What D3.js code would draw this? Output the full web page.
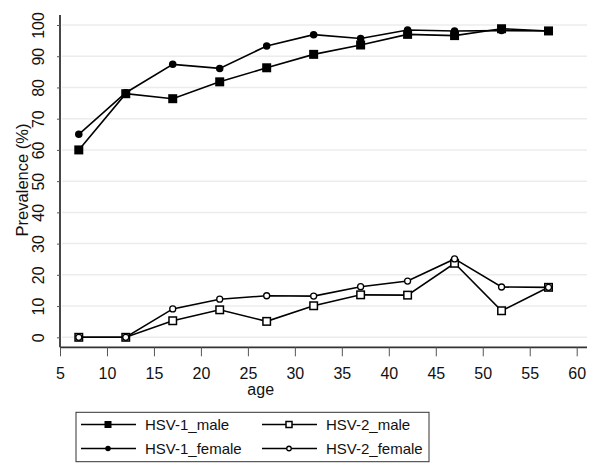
<!DOCTYPE html>
<html><head><meta charset="utf-8">
<script src="https://cdn.jsdelivr.net/npm/d3@7"></script>
<style>body{margin:0;background:#fff}svg{display:block}text{font-family:"Liberation Sans",Arial,sans-serif;fill:#111}</style>
</head><body><svg id="c" width="600" height="476"></svg>
<script>
const ages = [7,12,17,22,27,32,37,42,47,52,57];
const hsv1Male   = [60,78,76.4,81.8,86.3,90.6,93.6,97,96.6,98.8,98.1];
const hsv1Female = [65,78.3,87.4,86.1,93.3,96.9,95.7,98.4,98.1,98.2,98.1];
const hsv2Male   = [0,0,5.3,8.8,5.1,10.1,13.6,13.5,23.7,8.5,16];
const hsv2Female = [0,0,9.1,12.2,13.3,13.2,16.2,18,25.1,16.1,16];
const xTicks = [5,10,15,20,25,30,35,40,45,50,55,60];
const yTicks = [0,10,20,30,40,50,60,70,80,90,100];
const seriesNames = ["HSV-1_male","HSV-2_male","HSV-1_female","HSV-2_female"];

const svg = d3.select("#c");
const x = d3.scaleLinear().domain([5,60]).range([60,576.7]);
const y = d3.scaleLinear().domain([0,100]).range([337.3,25]);

// gridlines
svg.append("g").selectAll("line").data(yTicks).join("line")
  .attr("x1",62).attr("x2",587).attr("y1",d=>y(d)).attr("y2",d=>y(d))
  .attr("stroke","#ececec").attr("stroke-width",1.5);

// x axis
const xa = svg.append("g").attr("transform","translate(0,347.3)")
  .call(d3.axisBottom(x).tickValues(xTicks).tickSize(9).tickPadding(11).tickSizeOuter(0));
xa.select(".domain").attr("d","M60,0H587").attr("stroke","#333").attr("stroke-width",1.8);
xa.selectAll(".tick line").attr("stroke","#555").attr("stroke-width",1);
xa.selectAll(".tick text").attr("font-size",16).attr("font-family","Liberation Sans, Arial").attr("fill","#111");

// y axis
const ya = svg.append("g").attr("transform","translate(60,0)")
  .call(d3.axisLeft(y).tickValues(yTicks).tickSize(3).tickPadding(0).tickSizeOuter(0));
ya.select(".domain").attr("d","M0,15V347.3").attr("stroke","#333").attr("stroke-width",1.8);
ya.selectAll(".tick line").attr("stroke","#555");
ya.selectAll(".tick text").attr("font-size",16).attr("font-family","Liberation Sans, Arial").attr("fill","#111")
  .attr("text-anchor","middle").attr("dy",null)
  .attr("transform","translate(-20,0) rotate(-90)").attr("x",0).attr("y",0).attr("dominant-baseline","middle");

// titles
svg.append("text").attr("transform","translate(28,180) rotate(-90)").attr("text-anchor","middle")
  .attr("font-size",16.5).text("Prevalence (%)");
svg.append("text").attr("x",260.7).attr("y",395).attr("text-anchor","middle").attr("font-size",16).text("age");

const line = d3.line().x((d,i)=>x(ages[i])).y(d=>y(d));
function sym(g, type, cx, cy, s){
  if(type==="fsq") g.append("rect").attr("x",cx-s/2).attr("y",cy-s/2).attr("width",s).attr("height",s).attr("fill","#000");
  if(type==="fci") g.append("circle").attr("cx",cx).attr("cy",cy).attr("r",s/2).attr("fill","#000");
  if(type==="hsq") g.append("rect").attr("x",cx-s/2).attr("y",cy-s/2).attr("width",s).attr("height",s).attr("fill","#fff").attr("stroke","#000").attr("stroke-width",1.5);
  if(type==="hci") g.append("circle").attr("cx",cx).attr("cy",cy).attr("r",s/2).attr("fill","#fff").attr("stroke","#000").attr("stroke-width",1.3);
}
const series = [
  {vals:hsv1Male,type:"fsq",size:9},
  {vals:hsv1Female,type:"fci",size:7.5},
  {vals:hsv2Male,type:"hsq",size:7.5},
  {vals:hsv2Female,type:"hci",size:6}
];
series.forEach(s=>{
  const g = svg.append("g");
  g.append("path").attr("d",line(s.vals)).attr("fill","none").attr("stroke","#000").attr("stroke-width",1.6);
  s.vals.forEach((v,i)=>sym(g,s.type,x(ages[i]),y(v),s.size));
});

// legend
const lg = svg.append("g");
lg.append("rect").attr("x",76).attr("y",412.3).attr("width",353).attr("height",49.4)
  .attr("fill","#fff").attr("stroke","#333").attr("stroke-width",1);
const legItems = [
  {name:seriesNames[0],type:"fsq",size:7,col:0,row:0},
  {name:seriesNames[1],type:"hsq",size:6,col:1,row:0},
  {name:seriesNames[2],type:"fci",size:5.5,col:0,row:1},
  {name:seriesNames[3],type:"hci",size:4.5,col:1,row:1}
];
legItems.forEach(it=>{
  const x0 = it.col===0 ? 81 : 262, cy = it.row===0 ? 424.5 : 448.5;
  lg.append("line").attr("x1",x0).attr("x2",x0+55).attr("y1",cy).attr("y2",cy).attr("stroke","#000").attr("stroke-width",1.4);
  sym(lg,it.type,x0+27,cy,it.size);
  lg.append("text").attr("x",x0+64).attr("y",cy).attr("dy","0.36em").attr("font-size",15).text(it.name);
});
</script></body></html>
